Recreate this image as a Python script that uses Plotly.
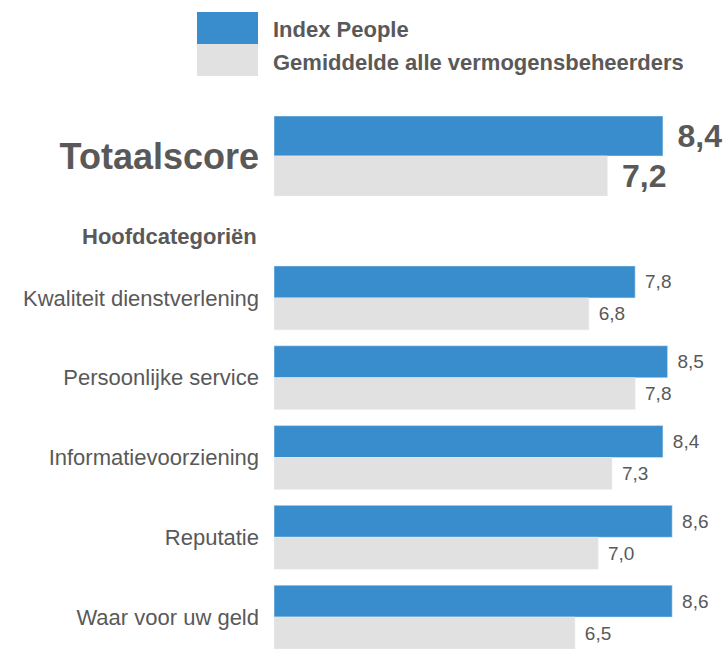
import plotly.graph_objects as go

# ---- data ----
series_names = ["Index People", "Gemiddelde alle vermogensbeheerders"]
total_label = ["Totaalscore"]
total_index = [8.4]
total_avg = [7.2]
section_title = "Hoofdcategoriën"
categories = ["Kwaliteit dienstverlening", "Persoonlijke service",
              "Informatievoorziening", "Reputatie", "Waar voor uw geld"]
index_values = [7.8, 8.5, 8.4, 8.6, 8.6]
avg_values = [6.8, 7.8, 7.3, 7.0, 6.5]

# ---- styles ----
BLUE = "#3A8DCD"
GREY = "#E1E1E1"
TXT = "#595959"
FONT = "Liberation Sans, Arial, sans-serif"
W, H = 725, 649
L = 274
PW = W - L

def px_x(p):
    return (p - L) / PW

def px_y(p):
    return 1 - p / H

fig = go.Figure()

nb = "\u00a0"
hair = "\u200a"
# Totaalscore subplot (x2/y2)
big_val_font = dict(size=32, color=TXT, family=FONT, weight="bold")
fig.add_trace(go.Bar(y=total_label, x=total_index, orientation="h", name=series_names[0],
                     marker=dict(color=BLUE), offset=-0.5, width=0.5,
                     xaxis="x2", yaxis="y2",
                     texttemplate=nb + hair + "%{x:.1f}", textposition="outside",
                     textfont=big_val_font, cliponaxis=False, showlegend=False))
fig.add_trace(go.Bar(y=total_label, x=total_avg, orientation="h", name=series_names[1],
                     marker=dict(color=GREY), offset=0, width=0.5,
                     xaxis="x2", yaxis="y2",
                     texttemplate=nb + hair + "%{x:.1f}", textposition="outside",
                     textfont=big_val_font, cliponaxis=False, showlegend=False))

# Main categories subplot
val_font = dict(size=19, color=TXT, family=FONT)
fig.add_trace(go.Bar(y=categories, x=index_values, orientation="h", name=series_names[0],
                     marker=dict(color=BLUE), offset=-0.4, width=0.4,
                     texttemplate=nb + hair + "%{x:.1f}", textposition="outside",
                     textfont=val_font, cliponaxis=False, showlegend=False))
fig.add_trace(go.Bar(y=categories, x=avg_values, orientation="h", name=series_names[1],
                     marker=dict(color=GREY), offset=0, width=0.4,
                     texttemplate=nb + hair + "%{x:.1f}", textposition="outside",
                     textfont=val_font, cliponaxis=False, showlegend=False))

xr = [0, 9.74]
hidden_x = dict(range=xr, showgrid=False, zeroline=False, showticklabels=False,
                showline=False, fixedrange=True)

fig.update_layout(
    width=W, height=H,
    margin=dict(l=L, r=0, t=0, b=0, autoexpand=False),
    paper_bgcolor="white", plot_bgcolor="white",
    barmode="overlay",
    separators=",.",
    font=dict(family=FONT, color=TXT),
    xaxis=dict(domain=[0, 1], anchor="y", **hidden_x),
    xaxis2=dict(domain=[0, 1], anchor="y2", **hidden_x),
    yaxis=dict(domain=[0, px_y(258)], range=[4.4, -0.5], type="category",
               anchor="x", showgrid=False, zeroline=False, showline=False,
               ticks="", ticklabelstandoff=14,
               tickfont=dict(size=22, color=TXT, family=FONT)),
    yaxis2=dict(domain=[px_y(196), px_y(116)], range=[0.5, -0.5], type="category",
                anchor="x2", showgrid=False, zeroline=False, showline=False,
                ticks="", ticklabelstandoff=14,
                tickfont=dict(size=36, color=TXT, family=FONT, weight="bold")),
    showlegend=False,
)

# section title
fig.add_annotation(text=section_title, xref="paper", yref="paper",
                   x=px_x(259), y=px_y(236), xanchor="right", yanchor="middle",
                   showarrow=False, font=dict(size=22, color=TXT, family=FONT, weight="bold"))

# manual legend
legend_font = dict(size=22, color=TXT, family=FONT, weight="bold")
fig.add_shape(type="rect", xref="paper", yref="paper", x0=px_x(197), x1=px_x(258),
              y0=px_y(44), y1=px_y(12), fillcolor=BLUE, line=dict(width=0))
fig.add_shape(type="rect", xref="paper", yref="paper", x0=px_x(197), x1=px_x(258),
              y0=px_y(76), y1=px_y(44), fillcolor=GREY, line=dict(width=0))
fig.add_annotation(text=series_names[0], xref="paper", yref="paper",
                   x=px_x(271), y=px_y(30), xanchor="left", yanchor="middle",
                   showarrow=False, font=legend_font)
fig.add_annotation(text=series_names[1], xref="paper", yref="paper",
                   x=px_x(271), y=px_y(62), xanchor="left", yanchor="middle",
                   showarrow=False, font=legend_font)

fig.write_html("out.html", config={"displayModeBar": False, "staticPlot": True},
               post_script="document.body.style.margin='0';document.body.style.overflow='hidden';")
